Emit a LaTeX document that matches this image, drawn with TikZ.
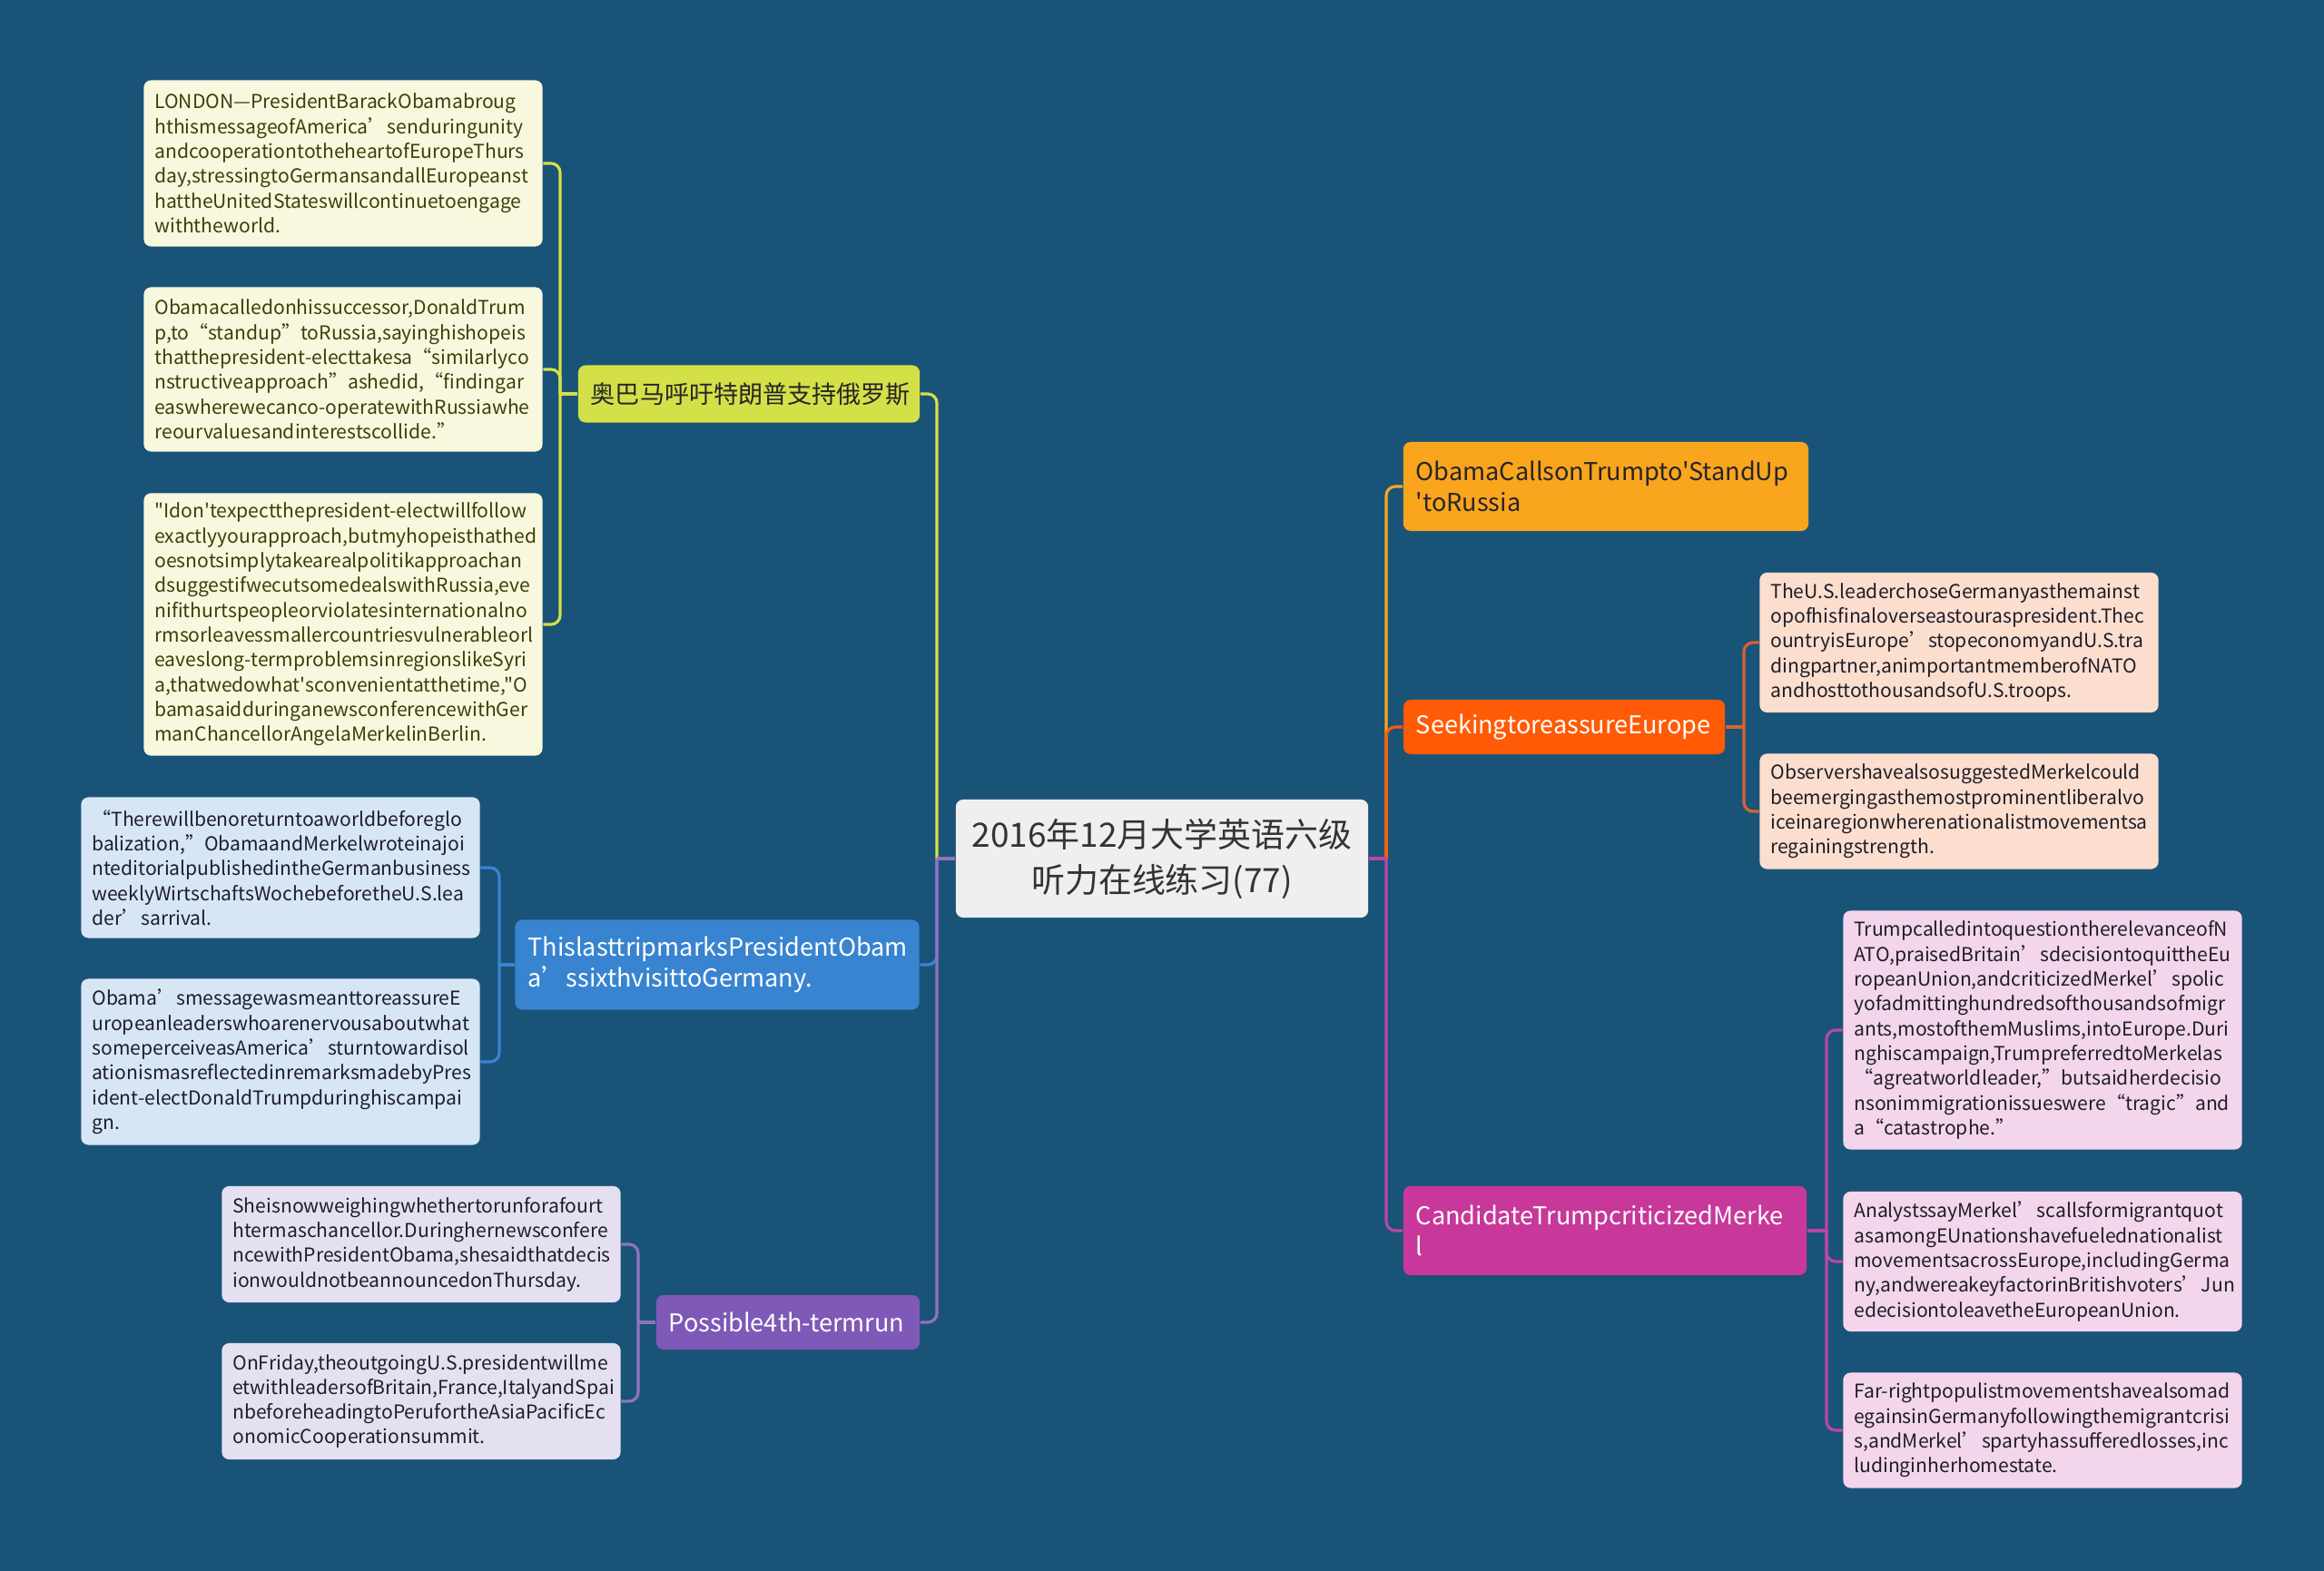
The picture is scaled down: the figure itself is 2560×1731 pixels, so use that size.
\documentclass[tikz,border=0pt]{standalone}
\usepackage{fontspec}
\newfontfamily\mapfont{Noto Sans CJK SC}
\hyphenpenalty=10000
\exhyphenpenalty=10000
\definecolor{mapbg}{RGB}{26,83,120}
\definecolor{maproot}{RGB}{239,239,239}
\definecolor{mapyellow}{RGB}{212,224,72}
\definecolor{mapyellowleaf}{RGB}{248,248,222}
\definecolor{mapolive}{RGB}{62,62,12}
\definecolor{mapblue}{RGB}{56,132,208}
\definecolor{mapblueleaf}{RGB}{214,230,245}
\definecolor{mappurple}{RGB}{126,89,183}
\definecolor{mappurpleleaf}{RGB}{229,224,241}
\definecolor{maporange}{RGB}{250,165,30}
\definecolor{mapred}{RGB}{255,90,5}
\definecolor{mapredlink}{RGB}{214,100,45}
\definecolor{mappeach}{RGB}{252,222,207}
\definecolor{mappink}{RGB}{200,56,154}
\definecolor{mappinklink}{RGB}{186,70,165}
\definecolor{mappinkleaf}{RGB}{243,214,236}
\definecolor{mapdark}{RGB}{30,30,40}

\begin{document}
\begin{tikzpicture}[x=0.01cm,y=-0.01cm,
  maptopic/.style={rounded corners=0.08cm,align=left,inner xsep=0.14cm,inner ysep=0pt,
    font=\mapfont\fontsize{7.7}{9.7}\selectfont},
  mapleaf/.style={rounded corners=0.08cm,align=left,text width=4.15cm,inner xsep=0.12cm,
    inner ysep=0pt,text=mapdark,font=\mapfont\fontsize{6}{7.77}\selectfont},
  maplink/.style={line width=0.9pt,rounded corners=0.1cm}
]
  % background
  \fill[mapbg] (0,0) rectangle (2560,1731);

  % root
  \node[fill=maproot,rounded corners=0.08cm,align=center,text=black!80,minimum width=4.54cm,
    minimum height=1.3cm,font=\mapfont\fontsize{10.5}{14.2}\selectfont] (root) at (1280,946)
    {2016年12月大学英语六级\\听力在线练习(77)};

  % left: 奥巴马呼吁特朗普支持俄罗斯
  \node[maptopic,fill=mapyellow,text=black!85,text width=3.48cm,align=center,minimum height=0.63cm]
    (obama) at (825,434) {奥巴马呼吁特朗普支持俄罗斯};
  \node[mapleaf,fill=mapyellowleaf,text=mapolive,minimum height=1.83cm] (obama1) at (378,180) {
    LONDON—PresidentBarackObamabroug\\hthismessageofAmerica’senduringunity\\
    andcooperationtotheheartofEuropeThurs\\day,stressingtoGermansandallEuropeanst\\
    hattheUnitedStateswillcontinuetoengage\\withtheworld.};
  \node[mapleaf,fill=mapyellowleaf,text=mapolive,minimum height=1.81cm] (obama2) at (378,407) {
    Obamacalledonhissuccessor,DonaldTrum\\p,to“standup”toRussia,sayinghishopeis\\
    thatthepresident-electtakesa“similarlyco\\nstructiveapproach”ashedid,“findingar\\
    easwherewecanco-operatewithRussiawhe\\reourvaluesandinterestscollide.”};
  \node[mapleaf,fill=mapyellowleaf,text=mapolive,minimum height=2.89cm] (obama3) at (378,688) {
    "Idon'texpectthepresident-electwillfollow\\exactlyyourapproach,butmyhopeisthathed\\
    oesnotsimplytakearealpolitikapproachan\\dsuggestifwecutsomedealswithRussia,eve\\
    nifithurtspeopleorviolatesinternationalno\\rmsorleavessmallercountriesvulnerableorl\\
    eaveslong-termproblemsinregionslikeSyri\\a,thatwedowhat'sconvenientatthetime,"O\\
    bamasaidduringanewsconferencewithGer\\manChancellorAngelaMerkelinBerlin.};

  % left: last trip
  \node[maptopic,fill=mapblue,text=white,text width=4.17cm,minimum height=0.99cm]
    (trip) at (790,1063) {ThislasttripmarksPresidentObam\\a’ssixthvisittoGermany.};
  \node[mapleaf,fill=mapblueleaf,minimum height=1.55cm] (trip1) at (309,956) {
    “Therewillbenoreturntoaworldbeforeglo\\balization,”ObamaandMerkelwroteinajoi\\
    nteditorialpublishedintheGermanbusiness\\weeklyWirtschaftsWochebeforetheU.S.lea\\
    der’sarrival.};
  \node[mapleaf,fill=mapblueleaf,minimum height=1.83cm] (trip2) at (309,1170) {
    Obama’smessagewasmeanttoreassureE\\uropeanleaderswhoarenervousaboutwhat\\
    someperceiveasAmerica’sturntowardisol\\ationismasreflectedinremarksmadebyPres\\
    ident-electDonaldTrumpduringhiscampai\\gn.};

  % left: fourth term
  \node[maptopic,fill=mappurple,text=white,text width=2.62cm,minimum height=0.6cm]
    (term) at (868,1457) {Possible4th-termrun};
  \node[mapleaf,fill=mappurpleleaf,minimum height=1.28cm] (term1) at (464,1371) {
    Sheisnowweighingwhethertorunforafourt\\htermaschancellor.Duringhernewsconfere\\
    ncewithPresidentObama,shesaidthatdecis\\ionwouldnotbeannouncedonThursday.};
  \node[mapleaf,fill=mappurpleleaf,minimum height=1.28cm] (term2) at (464,1544) {
    OnFriday,theoutgoingU.S.presidentwillme\\etwithleadersofBritain,France,ItalyandSpai\\
    nbeforeheadingtoPerufortheAsiaPacificEc\\onomicCooperationsummit.};

  % right: stand up to Russia
  \node[maptopic,fill=maporange,text=black!85,text width=4.18cm,minimum height=0.98cm]
    (standup) at (1769,536) {ObamaCallsonTrumpto'StandUp\\'toRussia};

  % right: reassure Europe
  \node[maptopic,fill=mapred,text=white,text width=3.26cm,minimum height=0.6cm]
    (europe) at (1723,801) {SeekingtoreassureEurope};
  \node[mapleaf,fill=mappeach,minimum height=1.54cm] (europe1) at (2158,708) {
    TheU.S.leaderchoseGermanyasthemainst\\opofhisfinaloverseastouraspresident.Thec\\
    ountryisEurope’stopeconomyandU.S.tra\\dingpartner,animportantmemberofNATO\\
    andhosttothousandsofU.S.troops.};
  \node[mapleaf,fill=mappeach,minimum height=1.27cm] (europe2) at (2158,894) {
    ObservershavealsosuggestedMerkelcould\\beemergingasthemostprominentliberalvo\\
    iceinaregionwherenationalistmovementsa\\regainingstrength.};

  % right: Trump criticized Merkel
  \node[maptopic,fill=mappink,text=white,text width=4.16cm,minimum height=0.98cm]
    (merkel) at (1768,1356) {CandidateTrumpcriticizedMerke\\l};
  \node[mapleaf,fill=mappinkleaf,minimum height=2.63cm] (merkel1) at (2250,1135) {
    TrumpcalledintoquestiontherelevanceofN\\ATO,praisedBritain’sdecisiontoquittheEu\\
    ropeanUnion,andcriticizedMerkel’spolic\\yofadmittinghundredsofthousandsofmigr\\
    ants,mostofthemMuslims,intoEurope.Duri\\nghiscampaign,TrumpreferredtoMerkelas\\
    “agreatworldleader,”butsaidherdecisio\\nsonimmigrationissueswere“tragic”and\\
    a“catastrophe.”};
  \node[mapleaf,fill=mappinkleaf,minimum height=1.54cm] (merkel2) at (2250,1390) {
    AnalystssayMerkel’scallsformigrantquot\\asamongEUnationshavefuelednationalist\\
    movementsacrossEurope,includingGerma\\ny,andwereakeyfactorinBritishvoters’Jun\\
    edecisiontoleavetheEuropeanUnion.};
  \node[mapleaf,fill=mappinkleaf,minimum height=1.27cm] (merkel3) at (2250,1576) {
    Far-rightpopulistmovementshavealsomad\\egainsinGermanyfollowingthemigrantcrisi\\
    s,andMerkel’spartyhassufferedlosses,inc\\ludinginherhomestate.};

  % joints
  \coordinate (lroot) at (1032,946);
  \coordinate (rroot) at (1527,946);
  \coordinate (obamaj) at (617,434);
  \coordinate (tripj) at (550,1063);
  \coordinate (termj) at (703,1457);
  \coordinate (europej) at (1921,801);
  \coordinate (merkelj) at (2012,1356);

  % links, left side
  \draw[maplink,mapyellow] (lroot) |- (obama.east);
  \draw[maplink,mapblue] (lroot) |- (trip.east);
  \draw[maplink,mappurple!85!white] (lroot) |- (term.east);
  \draw[maplink,mappurple!85!white] (root.west) -- (lroot);
  \draw[maplink,mapyellow] (obama.west) -- (obamaj);
  \foreach \leaf in {obama1,obama2,obama3}
    \draw[maplink,mapyellow] (obamaj) |- (\leaf.east);
  \draw[maplink,mapblue] (trip.west) -- (tripj);
  \foreach \leaf in {trip1,trip2}
    \draw[maplink,mapblue] (tripj) |- (\leaf.east);
  \draw[maplink,mappurple!85!white] (term.west) -- (termj);
  \foreach \leaf in {term1,term2}
    \draw[maplink,mappurple!85!white] (termj) |- (\leaf.east);

  % links, right side
  \draw[maplink,maporange] (rroot) |- (standup.west);
  \draw[maplink,mapred] (rroot) |- (europe.west);
  \draw[maplink,mappinklink] (rroot) |- (merkel.west);
  \draw[maplink,mappinklink] (root.east) -- (rroot);
  \draw[maplink,mapredlink] (europe.east) -- (europej);
  \foreach \leaf in {europe1,europe2}
    \draw[maplink,mapredlink] (europej) |- (\leaf.west);
  \draw[maplink,mappinklink] (merkel.east) -- (merkelj);
  \foreach \leaf in {merkel1,merkel2,merkel3}
    \draw[maplink,mappinklink] (merkelj) |- (\leaf.west);
\end{tikzpicture}
\end{document}
